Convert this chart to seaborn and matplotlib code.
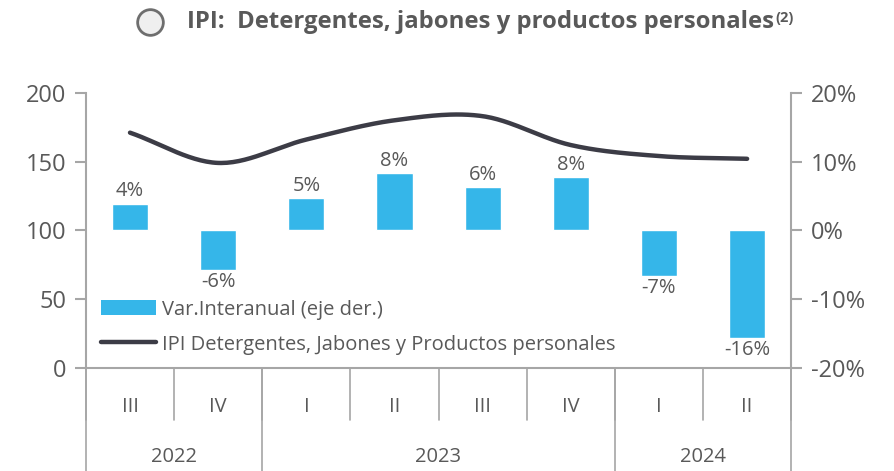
import numpy as np
import pandas as pd
import matplotlib
matplotlib.use("Agg")
import matplotlib.pyplot as plt
import seaborn as sns
from matplotlib.lines import Line2D
from matplotlib.patches import Patch
from matplotlib.ticker import FuncFormatter
from matplotlib import font_manager

# datos
quarters = ["III", "IV", "I", "II", "III", "IV", "I", "II"]
years = ["2022", "2023", "2024"]
year_spans = [2, 4, 2]
var_interanual = [3.9, -5.7, 4.7, 8.3, 6.3, 7.7, -6.6, -15.6]
var_labels = ["4%", "-6%", "5%", "8%", "6%", "8%", "-7%", "-16%"]
ipi = [171, 149, 166, 180, 183, 162, 154, 152]

title = "IPI:  Detergentes, jabones y productos personales"
legend_bar = "Var.Interanual (eje der.)"
legend_line = "IPI Detergentes, Jabones y Productos personales"

BLUE = "#35B6E9"
LINE = "#3C3C46"
TXT = "#595959"
GRID = "#A6A6A6"

sns.set_theme(style="white")
names = {f.name for f in font_manager.fontManager.ttflist}
body_font = "Open Sans" if "Open Sans" in names else "DejaVu Sans"
title_font = "Liberation Sans Narrow" if "Liberation Sans Narrow" in names else body_font
plt.rcParams["font.family"] = [body_font, "DejaVu Sans"]

df = pd.DataFrame({"pos": np.arange(len(quarters)), "var": var_interanual, "ipi": ipi})


def catmull_rom(x, y, n=30):
    # curva suavizada tipo Excel
    x = np.asarray(x, float)
    y = np.asarray(y, float)
    px = np.concatenate([[2 * x[0] - x[1]], x, [2 * x[-1] - x[-2]]])
    py = np.concatenate([[2 * y[0] - y[1]], y, [2 * y[-1] - y[-2]]])
    xs, ys = [], []
    t = np.linspace(0, 1, n, endpoint=False)
    for i in range(1, len(px) - 2):
        for arr, out in ((px, xs), (py, ys)):
            p0, p1, p2, p3 = arr[i - 1], arr[i], arr[i + 1], arr[i + 2]
            out.extend(0.5 * ((2 * p1) + (-p0 + p2) * t + (2 * p0 - 5 * p1 + 4 * p2 - p3) * t ** 2
                              + (-p0 + 3 * p1 - 3 * p2 + p3) * t ** 3))
    xs.append(x[-1])
    ys.append(y[-1])
    return pd.DataFrame({"x": xs, "y": ys})


fig = plt.figure(figsize=(8.95, 4.71), dpi=100)
ax = fig.add_axes([0.096, 0.219, 0.788, 0.584])
ax2 = ax.twinx()

# barras (eje derecho)
sns.barplot(data=df, x="pos", y="var", ax=ax2, color=BLUE, width=0.41,
            saturation=1, native_scale=True, zorder=2)
ax2.set_ylim(-20, 20)
ax2.yaxis.set_major_formatter(FuncFormatter(lambda v, p: f"{v:.0f}%"))
ax2.set_yticks([-20, -10, 0, 10, 20])
for xp, v, lab in zip(df["pos"], var_interanual, var_labels):
    if v >= 0:
        ax2.text(xp, v + 0.3, lab, ha="center", va="bottom", fontsize=14.5, color=TXT)
    else:
        ax2.text(xp, v - 0.4, lab, ha="center", va="top", fontsize=14.5, color=TXT)

# línea (eje izquierdo)
smooth = catmull_rom(df["pos"], df["ipi"])
sns.lineplot(data=smooth, x="x", y="y", ax=ax, color=LINE, linewidth=3.2, sort=False)
ax.set_ylim(0, 200)
ax.set_yticks([0, 50, 100, 150, 200])
ax.set_xlim(-0.5, len(quarters) - 0.5)
ax2.set_xlim(-0.5, len(quarters) - 0.5)

for a in (ax, ax2):
    a.set_xlabel("")
    a.set_ylabel("")
    for s in a.spines.values():
        s.set_visible(False)
ax.set_zorder(ax2.get_zorder() + 1)
ax.patch.set_visible(False)

ax.spines["left"].set_visible(True)
ax.spines["left"].set_color(GRID)
ax.spines["bottom"].set_visible(True)
ax.spines["bottom"].set_color(GRID)
ax2.spines["right"].set_visible(True)
ax2.spines["right"].set_color(GRID)
for s in (ax.spines["left"], ax.spines["bottom"], ax2.spines["right"]):
    s.set_linewidth(1.5)

ax.tick_params(axis="y", left=True, length=8, width=1.5, color=GRID, labelsize=17,
               labelcolor=TXT, pad=6)
ax2.tick_params(axis="y", right=True, length=8, width=1.5, color=GRID, labelsize=17,
                labelcolor=TXT, pad=6)
ax2.tick_params(axis="x", bottom=False, labelbottom=False)

# eje x categórico en dos niveles
ax.set_xticks(df["pos"])
ax.set_xticklabels(quarters, fontsize=14.5, color=TXT)
ax.tick_params(axis="x", bottom=False, pad=15)
trans = ax.get_xaxis_transform()
for b in np.arange(len(quarters) + 1) - 0.5:
    ax.plot([b, b], [0, -0.19], transform=trans, color=GRID, lw=1.2, clip_on=False)
start = -0.5
for yr, span in zip(years, year_spans):
    ax.plot([start, start], [0, -0.4], transform=trans, color=GRID, lw=1.2, clip_on=False)
    ax.text(start + span / 2, -0.325, yr, transform=trans, ha="center", va="center",
            fontsize=14.5, color=TXT)
    start += span
ax.plot([start, start], [0, -0.4], transform=trans, color=GRID, lw=1.2, clip_on=False)

# leyenda
handles = [Patch(facecolor=BLUE, edgecolor="none", label=legend_bar),
           Line2D([0], [0], color=LINE, lw=3.2, label=legend_line)]
fig.legend(handles=handles, loc="upper left", bbox_to_anchor=(0.1015, 0.385), frameon=False,
           fontsize=14.5, labelcolor=TXT, handlelength=2.75, handleheight=0.8,
           handletextpad=0.3, labelspacing=0.75, borderpad=0)

# título con círculo
fig.add_artist(Line2D([150 / 895], [1 - 22 / 471], marker="o", markersize=18.5,
                      markerfacecolor="#EFEFEF", markeredgecolor="#6E6E6E",
                      markeredgewidth=2, transform=fig.transFigure))
t = fig.text(187 / 895, 1 - 22 / 471, title, ha="left", va="center", fontsize=17.2,
             fontweight="bold", color=TXT, family=[title_font, "DejaVu Sans"])
fig.canvas.draw()
bb = t.get_window_extent()
fig.text(bb.x1 / fig.bbox.width + 0.001, (bb.y1 - 1) / fig.bbox.height, "(2)", ha="left",
         va="top", fontsize=10.5, fontweight="bold", color=TXT, family=[title_font, "DejaVu Sans"])

fig.savefig("out.png", dpi=100)
